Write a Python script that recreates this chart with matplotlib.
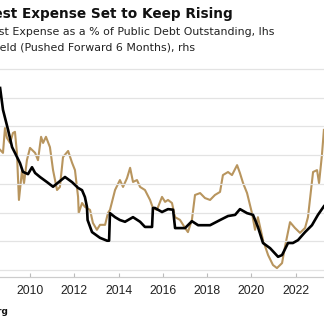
import matplotlib
matplotlib.use('Agg')
import matplotlib.pyplot as plt

# interest expense as % of public debt outstanding (lhs)
exp_years = [2008.65, 2008.78, 2009.01, 2009.19, 2009.32, 2009.55, 2009.68, 2009.91,
             2010.09, 2010.23, 2010.45, 2010.77, 2011.04, 2011.26, 2011.58, 2011.90,
             2012.17, 2012.35, 2012.48, 2012.57, 2012.60, 2012.80, 2013.16, 2013.48,
             2013.57, 2013.61, 2013.84, 2014.06, 2014.29, 2014.65, 2014.97, 2015.19,
             2015.51, 2015.55, 2015.64, 2015.96, 2016.23, 2016.46, 2016.55, 2017.00,
             2017.31, 2017.59, 2018.13, 2018.58, 2018.94, 2019.26, 2019.48, 2019.80,
             2020.07, 2020.29, 2020.52, 2020.84, 2021.20, 2021.38, 2021.65, 2021.87,
             2022.10, 2022.42, 2022.73, 2023.00, 2023.27]
exp_pct = [4.67, 4.29, 3.94, 3.64, 3.54, 3.36, 3.21, 3.17,
           3.29, 3.19, 3.12, 3.03, 2.95, 3.02, 3.12, 3.03,
           2.93, 2.89, 2.77, 2.60, 2.37, 2.16, 2.06, 2.01,
           2.01, 2.49, 2.42, 2.37, 2.34, 2.42, 2.34, 2.25,
           2.25, 2.58, 2.58, 2.51, 2.56, 2.55, 2.23, 2.23,
           2.35, 2.28, 2.28, 2.37, 2.44, 2.46, 2.56, 2.49,
           2.46, 2.25, 1.97, 1.88, 1.73, 1.76, 1.97, 1.97,
           2.02, 2.16, 2.28, 2.46, 2.61]

# 10-year yield, pushed forward 6 months (rhs)
yld_years = [2008.65, 2008.78, 2008.87, 2008.96, 2009.10, 2009.23, 2009.32, 2009.41,
             2009.50, 2009.64, 2009.73, 2009.86, 2010.00, 2010.23, 2010.36, 2010.50,
             2010.59, 2010.72, 2010.90, 2011.04, 2011.13, 2011.22, 2011.35, 2011.49,
             2011.72, 2011.90, 2012.03, 2012.17, 2012.20, 2012.35, 2012.48, 2012.71,
             2012.84, 2013.02, 2013.16, 2013.39, 2013.52, 2013.61, 2013.84, 2014.06,
             2014.20, 2014.38, 2014.52, 2014.65, 2014.83, 2014.97, 2015.19, 2015.42,
             2015.55, 2015.73, 2015.96, 2016.10, 2016.23, 2016.41, 2016.55, 2016.77,
             2017.00, 2017.13, 2017.31, 2017.45, 2017.68, 2017.90, 2018.13, 2018.35,
             2018.58, 2018.71, 2018.94, 2019.12, 2019.35, 2019.48, 2019.62, 2019.80,
             2020.02, 2020.16, 2020.29, 2020.52, 2020.75, 2020.97, 2021.15, 2021.38,
             2021.51, 2021.74, 2021.96, 2022.19, 2022.42, 2022.55, 2022.78, 2022.96,
             2023.05, 2023.18, 2023.27]
yld_pct = [3.64, 3.56, 4.21, 3.95, 3.82, 4.08, 4.11, 3.56,
           2.33, 3.11, 2.77, 3.37, 3.69, 3.56, 3.37, 3.98,
           3.82, 3.98, 3.71, 3.11, 2.85, 2.59, 2.67, 3.45,
           3.61, 3.30, 3.11, 2.41, 1.99, 2.25, 2.15, 2.07,
           1.73, 1.55, 1.68, 1.68, 1.99, 2.07, 2.59, 2.85,
           2.67, 2.90, 3.17, 2.80, 2.85, 2.67, 2.59, 2.33,
           2.12, 2.07, 2.41, 2.28, 2.33, 2.25, 1.88, 1.81,
           1.60, 1.49, 1.81, 2.46, 2.51, 2.38, 2.33, 2.46,
           2.54, 2.98, 3.06, 2.98, 3.24, 3.03, 2.77, 2.51,
           1.99, 1.55, 1.88, 1.28, 0.89, 0.63, 0.55, 0.68,
           1.10, 1.75, 1.60, 1.47, 1.60, 1.88, 3.06, 3.11,
           2.77, 3.50, 4.16]

x_ticks = [2010, 2012, 2014, 2016, 2018, 2020, 2022]
lhs_grid = [1.5, 2.0, 2.5, 3.0, 3.5, 4.0, 4.5, 5.0]

fig = plt.figure(figsize=(3.24, 3.28), dpi=100)
ax = fig.add_axes([0, 0.1555, 1, 0.6555])
ax2 = ax.twinx()

ax2.plot(yld_years, yld_pct, color='#b8955e', lw=1.5)
ax.plot(exp_years, exp_pct, color='black', lw=1.9)
ax.set_zorder(ax2.get_zorder() + 1)
ax.patch.set_visible(False)

ax.set_xlim(2008.645, 2023.274)
ax.set_ylim(1.378, 5.123)
ax2.set_ylim(0.317, 5.935)

ax.set_yticks(lhs_grid)
ax.grid(axis='y', color='#e3e3e3', lw=0.9)
ax.set_axisbelow(True)
ax.tick_params(axis='y', left=False, labelleft=False)
ax2.tick_params(axis='y', right=False, labelright=False)

ax.set_xticks(x_ticks)
ax.set_xticklabels([str(t) for t in x_ticks], family='Liberation Sans', fontsize=8.7, color='#222222')
ax.tick_params(axis='x', direction='in', length=3, color='#bbbbbb', pad=6)

for a in (ax, ax2):
    for s in ('top', 'left', 'right'):
        a.spines[s].set_visible(False)
    a.spines['bottom'].set_color('#cccccc')

fig.text(233 / 324, 1 - 14 / 328, 'Interest Expense Set to Keep Rising', ha='right', va='center',
         fontsize=9.8, fontweight='bold', color='#111111')
fig.text(275 / 324, 1 - 32 / 328, 'Interest Expense as a % of Public Debt Outstanding, lhs',
         ha='right', va='center', fontsize=7.95, color='#222222')
fig.text(195 / 324, 1 - 48 / 328, '10-Year Treasury Yield (Pushed Forward 6 Months), rhs',
         ha='right', va='center', fontsize=7.95, color='#222222')
fig.text(8 / 324, 1 - 311 / 328, 'Source: Bloomberg', ha='right', va='center',
         fontsize=6.5, fontweight='bold', color='#111111')

fig.savefig('out.png', dpi=100)
